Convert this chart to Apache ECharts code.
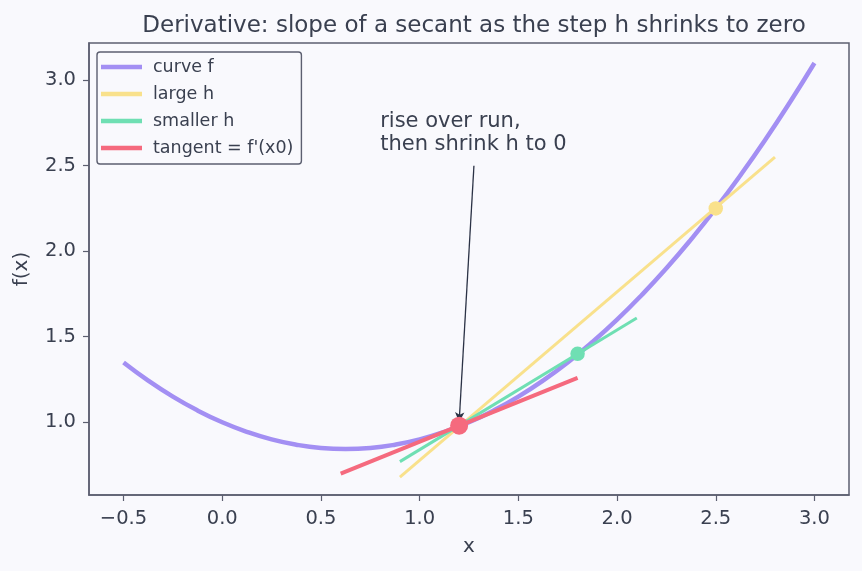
<!DOCTYPE html>
<html>
<head>
<meta charset="utf-8">
<script src="https://cdn.jsdelivr.net/npm/echarts@6/dist/echarts.min.js"></script>
<style>
  html, body { margin: 0; padding: 0; background: #f9f9fd; }
  #chart { width: 862px; height: 571px; }
</style>
</head>
<body>
<div id="chart"></div>
<script>
// curve f
var curveX = [-0.5, -0.375, -0.25, -0.125, 0, 0.125, 0.25, 0.375, 0.5, 0.625, 0.75, 0.875,
              1.0, 1.125, 1.25, 1.375, 1.5, 1.625, 1.75, 1.875, 2.0, 2.125, 2.25, 2.375,
              2.5, 2.625, 2.75, 2.875, 3.0];
var curveY = [1.350, 1.244, 1.150, 1.069, 1.000, 0.944, 0.900, 0.869, 0.850, 0.844, 0.850, 0.869,
              0.900, 0.944, 1.000, 1.069, 1.150, 1.244, 1.350, 1.469, 1.600, 1.744, 1.900, 2.069,
              2.250, 2.444, 2.650, 2.869, 3.100];

// secants and tangent (end points)
var largeH = [[0.9, 0.68], [2.8, 2.55]];
var smallerH = [[0.9, 0.77], [2.1, 1.61]];
var tangent = [[0.6, 0.70], [1.8, 1.26]];

// marked points
var pointX0 = [1.2, 0.98];
var pointLarge = [2.5, 2.25];
var pointSmall = [1.8, 1.40];

// ticks
var xTicks = [-0.5, 0.0, 0.5, 1.0, 1.5, 2.0, 2.5, 3.0];
var yTicks = [1.0, 1.5, 2.0, 2.5, 3.0];

var textColor = '#3a4050';
var frameColor = '#5c5f70';
var font = 'DejaVu Sans';

var cPurple = '#a38ff3';
var cYellow = '#f9e18c';
var cGreen = '#6fdfb3';
var cRed = '#f56a7e';

var chart = echarts.init(document.getElementById('chart'));

function fmt(v) {
    return v.toFixed(1).replace('-', '\u2212');
}

var option = {
    animation: false,
    backgroundColor: '#f9f9fd',
    textStyle: { fontFamily: font },
    title: {
        text: 'Derivative: slope of a secant as the step h shrinks to zero',
        left: 469,
        textAlign: 'center',
        top: 10,
        textStyle: { fontFamily: font, fontSize: 23, fontWeight: 'normal', color: textColor }
    },
    grid: {
        left: 89, right: 13, top: 43, bottom: 76,
        show: true,
        borderColor: frameColor,
        borderWidth: 1.5,
        backgroundColor: 'transparent'
    },
    legend: {
        orient: 'vertical',
        left: 97,
        top: 52,
        padding: [5, 8, 6, 4],
        itemGap: 7,
        itemWidth: 41,
        itemHeight: 4.5,
        icon: 'rect',
        backgroundColor: '#f9f9fd',
        borderColor: frameColor,
        borderWidth: 1.4,
        borderRadius: 3,
        textStyle: { fontFamily: font, fontSize: 17.5, color: textColor, lineHeight: 20, padding: [0, 0, 0, 6] },
        data: [
            { name: 'curve f', itemStyle: { color: cPurple } },
            { name: 'large h', itemStyle: { color: cYellow } },
            { name: 'smaller h', itemStyle: { color: cGreen } },
            { name: "tangent = f'(x0)", itemStyle: { color: cRed } }
        ]
    },
    xAxis: {
        type: 'value',
        min: -0.675,
        max: 3.175,
        name: 'x',
        nameLocation: 'middle',
        nameGap: 42,
        nameTextStyle: { fontFamily: font, fontSize: 20, color: textColor },
        splitLine: { show: false },
        axisLine: { show: true, onZero: false, lineStyle: { color: frameColor, width: 1.5 } },
        axisTick: { show: true, length: 6, customValues: xTicks, lineStyle: { color: frameColor, width: 1.2 } },
        axisLabel: { customValues: xTicks, formatter: fmt, fontFamily: font, fontSize: 19.5, color: textColor, margin: 14 }
    },
    yAxis: {
        type: 'value',
        min: 0.575,
        max: 3.217,
        name: 'f(x)',
        nameLocation: 'middle',
        nameGap: 57,
        nameTextStyle: { fontFamily: font, fontSize: 20, color: textColor },
        splitLine: { show: false },
        axisLine: { show: true, onZero: false, lineStyle: { color: frameColor, width: 1.5 } },
        axisTick: { show: true, length: 6, customValues: yTicks, lineStyle: { color: frameColor, width: 1.2 } },
        axisLabel: { customValues: yTicks, formatter: fmt, fontFamily: font, fontSize: 19.5, color: textColor, margin: 13 }
    },
    series: [
        {
            name: 'curve f',
            type: 'line',
            data: curveX.map(function (x, i) { return [x, curveY[i]]; }),
            smooth: true,
            showSymbol: false,
            lineStyle: { color: cPurple, width: 4.5 },
            itemStyle: { color: cPurple },
            z: 2
        },
        {
            name: 'large h',
            type: 'line',
            data: largeH,
            showSymbol: false,
            lineStyle: { color: cYellow, width: 3 },
            itemStyle: { color: cYellow },
            z: 3
        },
        {
            name: 'smaller h',
            type: 'line',
            data: smallerH,
            showSymbol: false,
            lineStyle: { color: cGreen, width: 3 },
            itemStyle: { color: cGreen },
            z: 4
        },
        {
            name: "tangent = f'(x0)",
            type: 'line',
            data: tangent,
            showSymbol: false,
            lineStyle: { color: cRed, width: 4 },
            itemStyle: { color: cRed },
            z: 5
        },
        {
            type: 'scatter',
            data: [pointLarge],
            symbolSize: 14.5,
            itemStyle: { color: cYellow, opacity: 1 },
            z: 6
        },
        {
            type: 'scatter',
            data: [pointSmall],
            symbolSize: 14.5,
            itemStyle: { color: cGreen, opacity: 1 },
            z: 6
        },
        {
            type: 'scatter',
            data: [pointX0],
            symbolSize: 18,
            itemStyle: { color: cRed, opacity: 1 },
            z: 7
        },
        {
            // annotation arrow
            type: 'line',
            data: [],
            z: 8,
            markLine: {
                silent: true,
                symbol: ['none', 'arrow'],
                symbolSize: [7, 10],
                label: { show: false },
                lineStyle: { color: '#2b3245', width: 1.3, type: 'solid' },
                data: [[{ coord: [1.275, 2.5] }, { coord: [1.2, 1.0] }]]
            }
        }
    ]
};

chart.setOption(option);

// annotation text, placed in data coordinates
var anchor = chart.convertToPixel({ gridIndex: 0 }, [0.8, 2.56]);
chart.setOption({
    graphic: [{
        type: 'text',
        left: anchor[0],
        top: anchor[1] - 45,
        z: 10,
        style: {
            text: 'rise over run,\nthen shrink h to 0',
            fontFamily: font,
            fontSize: 21,
            lineHeight: 23,
            fill: textColor
        }
    }]
});
</script>
</body>
</html>
